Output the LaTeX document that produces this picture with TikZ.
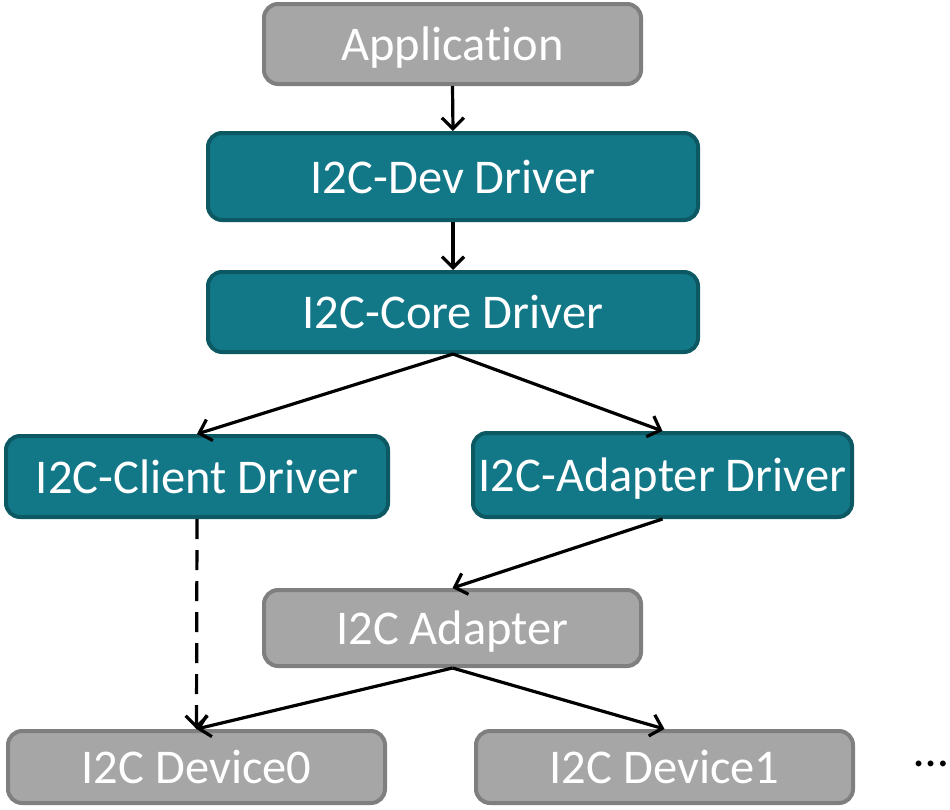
\documentclass[tikz,border=0pt]{standalone}
\usepackage{fontspec}
\setmainfont[Ligatures=NoCommon]{Carlito}
\usetikzlibrary{arrows.meta}
\definecolor{tealfill}{HTML}{127888}
\definecolor{tealdraw}{HTML}{0D5963}
\definecolor{grayfill}{HTML}{A6A6A6}
\definecolor{graydraw}{HTML}{7F7F7F}
\tikzset{
  box/.style={rectangle, rounded corners=14pt, line width=4pt, inner sep=0pt,
    text=white, font=\fontsize{48.5}{58}\selectfont, text height=38pt, text depth=5pt},
  tealbox/.style={box, fill=tealfill, draw=tealdraw},
  graybox/.style={box, fill=grayfill, draw=graydraw},
  conn/.style={line width=3.2pt, -{Straight Barb[length=11pt,width=22pt,line width=3.2pt]}},
}
\begin{document}
\begin{tikzpicture}[x=1pt,y=-1pt]
\useasboundingbox (0,0) rectangle (950,809);
\node[graybox, minimum width=377pt, minimum height=80pt] (app) at (452.5,44) {Application};
\node[tealbox, minimum width=490pt, minimum height=87pt] (dev) at (453,176.5) {I2C-Dev Driver};
\node[tealbox, minimum width=490pt, minimum height=80pt] (core) at (453,312) {I2C-Core Driver};
\node[tealbox, minimum width=382pt, minimum height=81pt] (client) at (197,476.5) {I2C-Client Driver};
\node[tealbox, minimum width=379pt, minimum height=84pt] (addrv) at (662.5,475) {I2C-Adapter Driver};
\node[graybox, minimum width=377pt, minimum height=76pt] (adapter) at (452.5,628) {I2C Adapter};
\node[graybox, minimum width=377pt, minimum height=72pt] (dev0) at (196.5,767) {I2C Device0};
\node[graybox, minimum width=377pt, minimum height=72pt] (dev1) at (664.5,767) {I2C Device1};
\node[font=\fontsize{48.5}{58}\selectfont, inner sep=0pt] (dots) at (931,764) {…};
\draw[conn] (app.south) -- (dev.north);
\draw[conn] (dev.south) -- (core.north);
\draw[conn] (core.south) -- (client.north);
\draw[conn] (core.south) -- (addrv.north);
\draw[conn] (addrv.south) -- (adapter.north);
\draw[conn, dash pattern=on 20pt off 11pt] (client.south) -- (dev0.north);
\draw[conn] (adapter.south) -- (dev0.north);
\draw[conn] (adapter.south) -- (dev1.north);
\end{tikzpicture}
\end{document}
